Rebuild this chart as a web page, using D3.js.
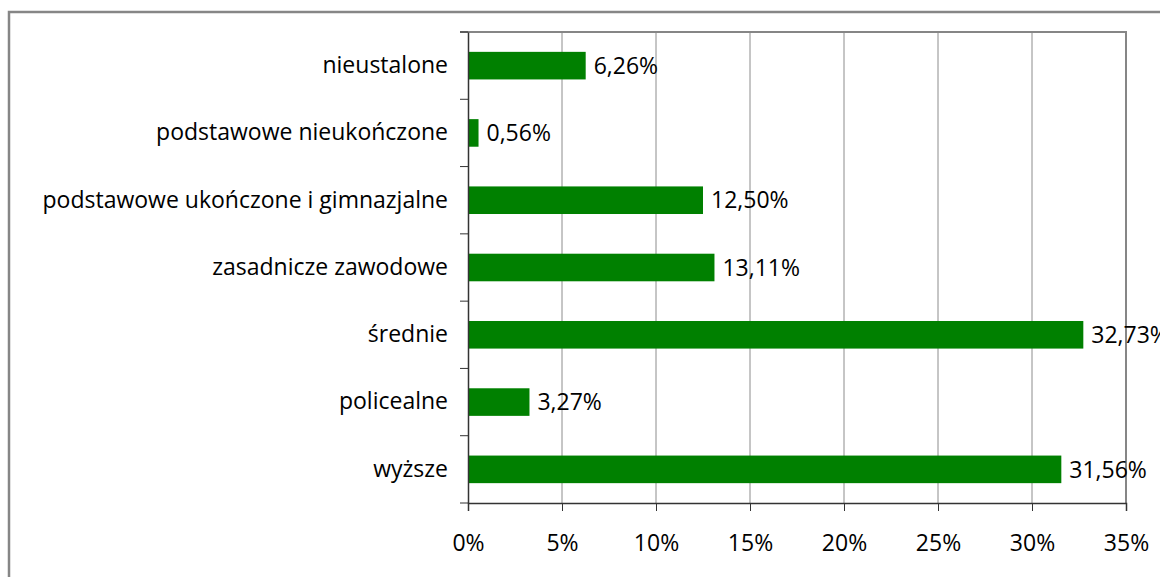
<!DOCTYPE html>
<html>
<head>
<meta charset="utf-8">
<script src="https://cdn.jsdelivr.net/npm/d3@7"></script>
<style>
  body { margin: 0; background: #fff; }
  text { font-family: "Open Sans", sans-serif; fill: #000; }
</style>
</head>
<body>
<div id="chart"></div>
<script>
// data
var categories = ["nieustalone", "podstawowe nieukończone", "podstawowe ukończone i gimnazjalne",
  "zasadnicze zawodowe", "średnie", "policealne", "wyższe"];
var values = [6.26, 0.56, 12.50, 13.11, 32.73, 3.27, 31.56];
var tickValues = [0, 5, 10, 15, 20, 25, 30, 35];

var svgWidth = 1160;
var svgHeight = 577;
var fontSize = "23px";

var margin = { top: 32, right: 34, bottom: 74, left: 468 };
var width = svgWidth - margin.left - margin.right;
var height = svgHeight - margin.top - margin.bottom;

var svg = d3.select("#chart")
  .append("svg")
  .attr("width", svgWidth)
  .attr("height", svgHeight);

// outer frame (right and bottom edges fall outside the picture)
svg.append("rect")
  .attr("x", 9)
  .attr("y", 12)
  .attr("width", svgWidth)
  .attr("height", svgHeight)
  .attr("fill", "none")
  .attr("stroke", "#868686")
  .attr("stroke-width", 2.5);

var chartGroup = svg.append("g")
  .attr("transform", `translate(${margin.left}, ${margin.top})`);

var x = d3.scaleLinear().domain([0, 35]).range([0, width]);
var y = d3.scaleBand().domain(categories).range([0, height]).paddingInner(0.59).paddingOuter(0.295);
var yBand = d3.scaleBand().domain(categories).range([0, height]);

// vertical gridlines
chartGroup.selectAll("line.grid")
  .data(tickValues.slice(1, -1))
  .enter()
  .append("line")
  .attr("class", "grid")
  .attr("x1", d => x(d))
  .attr("x2", d => x(d))
  .attr("y1", 0)
  .attr("y2", height)
  .attr("stroke", "#8c8c8c")
  .attr("stroke-width", 1);

// plot area top and right border
chartGroup.append("path")
  .attr("d", `M-8,0H${x(35)}V${height}`)
  .attr("fill", "none")
  .attr("stroke", "#868686")
  .attr("stroke-width", 2);

// bars
chartGroup.selectAll("rect.bar")
  .data(values)
  .enter()
  .append("rect")
  .attr("class", "bar")
  .attr("x", 0)
  .attr("y", (d, i) => y(categories[i]))
  .attr("width", d => x(d))
  .attr("height", y.bandwidth())
  .attr("fill", "#008000");

// value labels
chartGroup.selectAll("text.val")
  .data(values)
  .enter()
  .append("text")
  .attr("class", "val")
  .attr("x", d => x(d) + 8)
  .attr("y", (d, i) => y(categories[i]) + y.bandwidth() / 2)
  .attr("dy", "0.36em")
  .style("font-size", fontSize)
  .text(d => d.toFixed(2).replace(".", ",") + "%");

// x axis
var bottomAxis = d3.axisBottom(x)
  .tickValues(tickValues)
  .tickSize(8)
  .tickPadding(24)
  .tickFormat(d => d + "%");

var xAxis = chartGroup.append("g")
  .attr("transform", `translate(0, ${height})`)
  .call(bottomAxis);
xAxis.select(".domain").attr("stroke", "#333").attr("stroke-width", 1.5);
xAxis.selectAll(".tick line").attr("stroke", "#333");
xAxis.selectAll("text").style("font-size", fontSize).style("font-family", "Open Sans");

// y axis with ticks on band boundaries
var leftAxis = d3.axisLeft(y).tickSize(0).tickPadding(20);
var yAxis = chartGroup.append("g").call(leftAxis);
yAxis.select(".domain").attr("stroke", "#333").attr("stroke-width", 1.5);
yAxis.selectAll("text").style("font-size", fontSize).style("font-family", "Open Sans");

chartGroup.selectAll("line.ytick")
  .data(categories.concat(["end"]))
  .enter()
  .append("line")
  .attr("class", "ytick")
  .attr("x1", -8)
  .attr("x2", 0)
  .attr("y1", (d, i) => i < categories.length ? yBand(d) : height)
  .attr("y2", (d, i) => i < categories.length ? yBand(d) : height)
  .attr("stroke", "#333");
</script>
</body>
</html>
